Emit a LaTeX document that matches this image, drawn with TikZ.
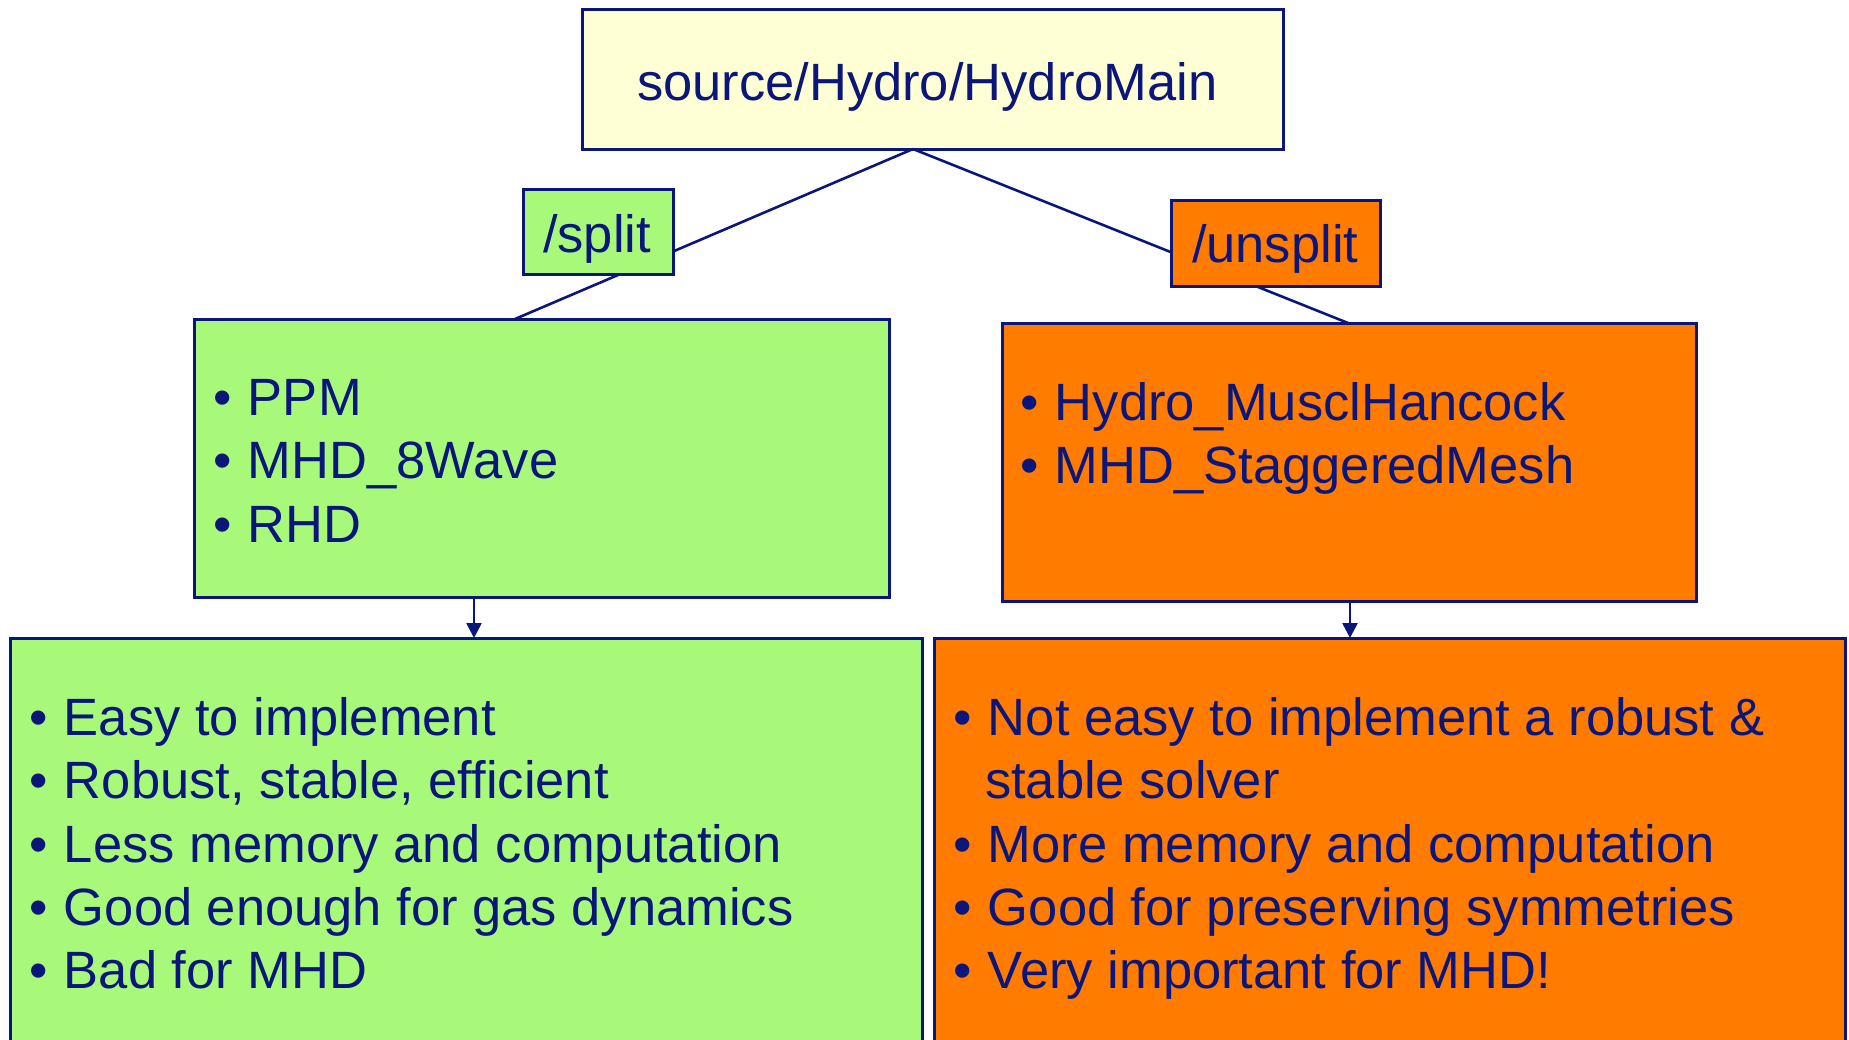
\documentclass[tikz,border=0pt]{standalone}
\usepackage{fontspec}
\setmainfont{Liberation Sans}
\usetikzlibrary{arrows.meta}

\definecolor{ink}{RGB}{10,22,122}
\definecolor{paleyellow}{RGB}{255,255,214}
\definecolor{lime}{RGB}{168,249,122}
\definecolor{tangerine}{RGB}{255,124,0}

% bullet followed by a fixed indent
\newcommand{\itm}[1]{\makebox[35pt][l]{•}#1}
\newcommand{\cont}[1]{\hspace*{35pt}#1}

\tikzset{
  panel/.style={draw=ink, line width=3pt, inner sep=0pt, outer sep=0pt, anchor=north west},
  txt/.style={text=ink, font=\fontsize{52.5}{63.3}\selectfont, inner sep=0pt, outer sep=0pt, anchor=base west},
  link/.style={draw=ink, line width=2.6pt},
  flow/.style={link, -{Triangle[width=15pt,length=15pt]}}
}

\begin{document}
\begin{tikzpicture}[x=1pt,y=-1pt]
\useasboundingbox (0,0) rectangle (1849,1039);
\clip (0,0) rectangle (1849,1039);

% boxes
\node[panel, fill=paleyellow, minimum width=701pt, minimum height=140pt] (top) at (582,9) {};
\node[panel, fill=lime, minimum width=695pt, minimum height=278pt] (g1) at (194,319) {};
\node[panel, fill=tangerine, minimum width=694pt, minimum height=278pt] (o1) at (1002,323) {};
\node[panel, fill=lime, minimum width=912pt, minimum height=430pt] (g2) at (10,638) {};
\node[panel, fill=tangerine, minimum width=911pt, minimum height=430pt] (o2) at (934,638) {};

% tree branches from the top box
\coordinate (apex) at (913,149);
\coordinate (gin) at (515,319);
\coordinate (oin) at (1348,323);
\draw[link] (apex) -- (gin);
\draw[link] (apex) -- (oin);

% branch labels sit on top of the branches
\node[panel, fill=lime, minimum width=150pt, minimum height=85pt] (split) at (523,189) {};
\node[panel, fill=tangerine, minimum width=209pt, minimum height=86pt] (unsplit) at (1171,200) {};
\node[txt] (splitlbl) at (543,252) {/split};
\node[txt] (unsplitlbl) at (1192,262) {/unsplit};

% arrows down to the assessment boxes
\coordinate (gx) at (474,0);
\coordinate (ox) at (1350,0);
\draw[flow] (g1.south -| gx) -- (g2.north -| gx);
\draw[flow] (o1.south -| ox) -- (o2.north -| ox);

% texts
\node[txt] (toplbl) at (637,100) {source/Hydro/HydroMain};

\node[txt] (g1a) at (213,415) {\itm{PPM}};
\node[txt] (g1b) at (213,478) {\itm{MHD\_8Wave}};
\node[txt] (g1c) at (213,542) {\itm{RHD}};

\node[txt] (o1a) at (1020,420) {\itm{Hydro\_MusclHancock}};
\node[txt] (o1b) at (1020,483) {\itm{MHD\_StaggeredMesh}};

\node[txt] (g2a) at (29,735) {\itm{Easy to implement}};
\node[txt] (g2b) at (29,798) {\itm{Robust, stable, efficient}};
\node[txt] (g2c) at (29,862) {\itm{Less memory and computation}};
\node[txt] (g2d) at (29,925) {\itm{Good enough for gas dynamics}};
\node[txt] (g2e) at (29,988) {\itm{Bad for MHD}};

\node[txt] (o2a) at (953,735) {\itm{Not easy to implement a robust \&}};
\node[txt] (o2b) at (950,798) {\cont{stable solver}};
\node[txt] (o2c) at (953,862) {\itm{More memory and computation}};
\node[txt] (o2d) at (953,925) {\itm{Good for preserving symmetries}};
\node[txt] (o2e) at (953,988) {\itm{Very important for MHD!}};
\end{tikzpicture}
\end{document}
